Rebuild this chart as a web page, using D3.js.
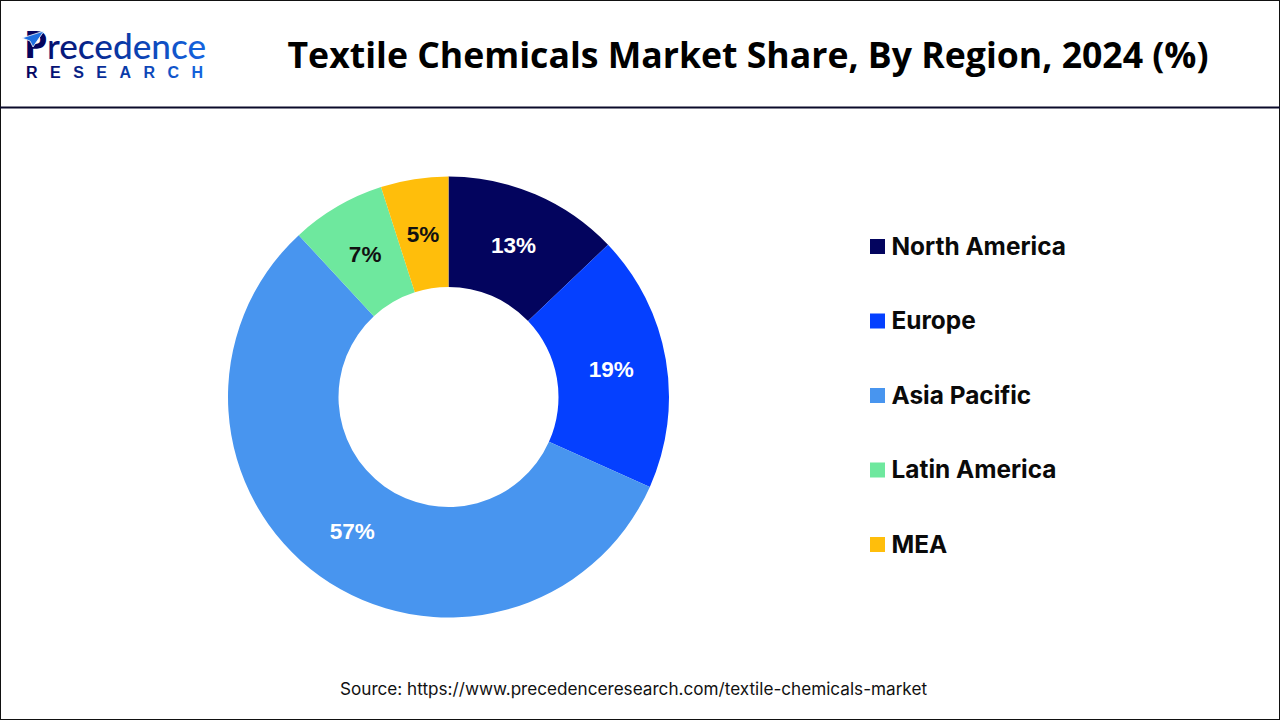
<!DOCTYPE html>
<html>
<head>
<meta charset="utf-8">
<script src="https://cdn.jsdelivr.net/npm/d3@7"></script>
<style>
  html, body { margin: 0; padding: 0; background: #fff; }
  svg { display: block; }
</style>
</head>
<body>
<svg id="chart" width="1280" height="720"></svg>
<script>
const regions = ['North America', 'Europe', 'Asia Pacific', 'Latin America', 'MEA'];
const shares = [13, 19, 57, 7, 5];
const colors = ['#03045E', '#0540FF', '#4895EF', '#6EE89E', '#FFBE0B'];
const labelColors = ['#fff', '#fff', '#fff', '#111', '#111'];
const legendRows = [0, 1, 2, 3, 4];

const title = 'Textile Chemicals Market Share, By Region, 2024 (%)';
const source = 'Source: https://www.precedenceresearch.com/textile-chemicals-market';

const svg = d3.select('#chart');

// frame + header line
svg.append('rect')
  .attr('x', 0.5).attr('y', 0.5)
  .attr('width', 1279).attr('height', 719)
  .attr('fill', '#fff').attr('stroke', '#111').attr('stroke-width', 1);
svg.append('line')
  .attr('x1', 0).attr('x2', 1280)
  .attr('y1', 107.5).attr('y2', 107.5)
  .attr('stroke', '#0a0a2a').attr('stroke-width', 2);

// logo
const logo = svg.append('g').attr('class', 'logo');
const logoGrad = svg.append('defs').append('linearGradient')
  .attr('id', 'logoGrad').attr('gradientUnits', 'userSpaceOnUse')
  .attr('x1', 25).attr('x2', 205).attr('y1', 0).attr('y2', 0);
logoGrad.append('stop').attr('offset', '0').attr('stop-color', '#03045E');
logoGrad.append('stop').attr('offset', '0.55').attr('stop-color', '#0A3AA8');
logoGrad.append('stop').attr('offset', '1').attr('stop-color', '#1565E0');

logo.append('text')
  .attr('x', 24).attr('y', 58)
  .attr('font-family', '"Noto Sans", sans-serif')
  .attr('font-weight', 700).attr('font-size', 38)
  .attr('fill', '#03045E')
  .text('P');
logo.append('path')
  .attr('d', 'M44 31 L33 47 L30 41 L22 38 Z')
  .attr('fill', '#1E6FE0').attr('stroke', '#fff').attr('stroke-width', 0.8);
logo.append('text')
  .attr('x', 47).attr('y', 59)
  .attr('font-family', 'Lato, sans-serif')
  .attr('font-weight', 500).attr('font-size', 34)
  .attr('textLength', 159).attr('lengthAdjust', 'spacingAndGlyphs')
  .attr('fill', 'url(#logoGrad)')
  .text('recedence');
logo.append('text')
  .attr('x', 26).attr('y', 77.5)
  .attr('font-family', '"Liberation Sans", sans-serif')
  .attr('font-weight', 700).attr('font-size', 16)
  .attr('textLength', 177)
  .attr('fill', 'url(#logoGrad)')
  .text('RESEARCH');

// title
svg.append('text')
  .attr('x', 748).attr('y', 68)
  .attr('text-anchor', 'middle')
  .attr('font-family', '"Open Sans", sans-serif')
  .attr('font-weight', 700).attr('font-size', 36)
  .attr('textLength', 921).attr('lengthAdjust', 'spacingAndGlyphs')
  .attr('fill', '#000')
  .text(title);

// donut
const outerR = 220.5, innerR = 110;
const pie = d3.pie().sort(null).value(d => d);
const arc = d3.arc().innerRadius(innerR).outerRadius(outerR);
const arcs = pie(shares);

const donut = svg.append('g').attr('transform', 'translate(448.5, 397)');
donut.selectAll('path').data(arcs).join('path')
  .attr('d', arc)
  .attr('fill', (d, i) => colors[i]);
donut.selectAll('text').data(arcs).join('text')
  .attr('transform', d => `translate(${arc.centroid(d)})`)
  .attr('text-anchor', 'middle')
  .attr('dy', '0.36em')
  .attr('font-family', '"Liberation Sans", Arial, sans-serif')
  .attr('font-weight', 700).attr('font-size', 22.5)
  .attr('fill', (d, i) => labelColors[i])
  .text(d => d.data + '%');

// legend
const legendY = d3.scalePoint().domain(legendRows).range([246.5, 544.5]);
const legend = svg.selectAll('.legend-item').data(regions).join('g')
  .attr('class', 'legend-item')
  .attr('transform', (d, i) => `translate(870, ${legendY(i)})`);
legend.append('rect')
  .attr('x', 0).attr('y', -7.5)
  .attr('width', 15).attr('height', 15)
  .attr('fill', (d, i) => colors[i]);
legend.append('text')
  .attr('x', 21.5).attr('y', -0.5)
  .attr('dy', '0.35em')
  .attr('font-family', 'Inter, sans-serif')
  .attr('font-weight', 700).attr('font-size', 24.4)
  .attr('fill', '#0a0a0a')
  .text(d => d);

// source
svg.append('text')
  .attr('x', 633.5).attr('y', 694.5)
  .attr('text-anchor', 'middle')
  .attr('font-family', 'Inter, sans-serif')
  .attr('font-size', 17)
  .attr('textLength', 587).attr('lengthAdjust', 'spacingAndGlyphs')
  .attr('fill', '#111')
  .text(source);
</script>
</body>
</html>
